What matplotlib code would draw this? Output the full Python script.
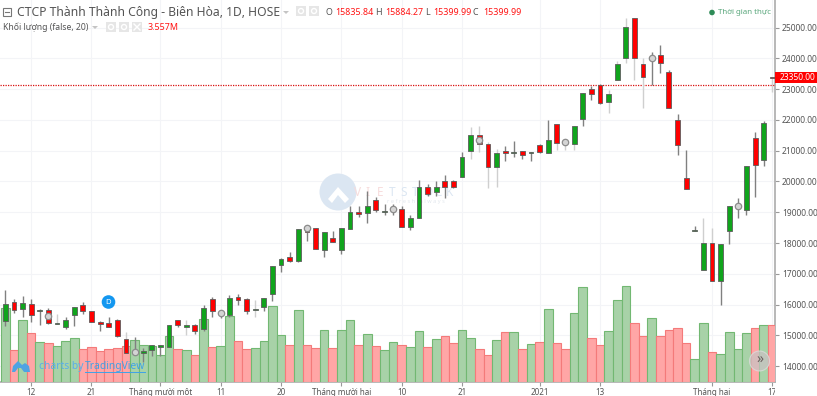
import matplotlib
matplotlib.use("Agg")
import matplotlib.pyplot as plt
from matplotlib.patches import Rectangle, Circle, Polygon

plt.rcParams['font.family'] = ['Noto Sans', 'DejaVu Sans']

opens = [15480,16080,15870,16020,15780,15830,15385,15290,15680,15980,
         15790,15440,15400,15490,14880,14440,14440,14540,14640,14640,
         15490,15290,15340,15200,16200,15710,15680,16250,16200,15820,
         15930,16340,17290,17540,17430,18560,18480,17780,18160,17780,
         18450,19000,18990,19400,19000,19090,19100,18530,18810,19810,
         19670,20000,20000,20140,21000,21500,21210,20480,21000,20940,
         21000,20940,21200,20940,21860,21270,21210,22040,22990,23140,
         22570,23290,24000,25300,23810,24000,24100,23570,22000,20100,
         18385,17140,17990,16780,18380,19190,19080,21400,20700,23380]
highs = [16480,16190,16280,16190,15850,15880,15700,15590,15940,16080,
         15800,15460,15600,15550,15120,14940,14590,14680,14680,15350,
         15510,15510,15360,15980,16240,15830,16320,16340,16210,16150,
         16210,17260,17500,17700,18450,18590,18500,18370,18390,18490,
         19210,19210,19690,19490,19260,19270,19210,18910,20050,19910,
         20000,20210,20050,20950,21780,21800,21290,21060,21150,21320,
         21000,20960,21210,22000,21870,21350,21810,22880,23110,23150,
         22970,23910,25300,25300,24000,24190,24430,23610,22190,21020,
         18560,18800,18480,17960,19210,19450,20510,21620,21970,23380]
lows = [15310,15740,15600,15450,15340,15380,15375,15210,15310,15710,
        15430,15160,15280,14960,14440,14370,14150,14320,14350,14640,
        15270,15000,15060,15150,15610,15560,15610,15990,15700,15610,
        15810,16120,17070,17370,17400,18070,17820,17560,18050,17650,
        18450,18860,18640,19020,18920,18920,18530,18430,18800,19540,
        19540,19460,19780,20140,20720,20970,19780,19830,20650,20780,
        20720,20650,20940,20940,21020,21020,21020,21800,22630,22510,
        22210,23290,23840,23280,22380,23130,23530,22380,20870,19750,
        18380,17140,16780,15990,17970,18830,18910,19510,20510,22920]
closes = [16020,15820,16040,15680,15840,15390,15400,15490,15930,15780,
          15440,15380,15290,14970,14440,14480,14490,14680,14680,15340,
          15340,15340,15150,15880,15780,15730,16210,16140,15780,15850,
          16210,17250,17490,17430,18450,18370,17820,18350,18050,18480,
          19000,18950,19210,19080,19050,19120,18530,18810,19810,19580,
          19810,19810,19810,20810,21500,21210,20480,20920,20940,20960,
          20850,20960,20950,21340,21240,21290,21800,22860,22850,22560,
          22850,23810,25010,24000,23380,24040,23850,22400,21200,19760,
          18395,17990,16780,17960,19210,19220,20500,20540,21900,23350]
volumes = [4.66,2.00,3.90,3.06,2.49,2.43,2.26,2.55,2.74,2.07,
           2.17,1.92,2.05,2.09,2.26,2.64,2.30,2.22,1.69,2.89,
           2.07,2.00,1.67,3.95,2.19,2.26,4.16,2.57,2.07,2.13,
           2.57,4.75,2.95,2.30,4.54,2.30,2.13,3.27,2.13,3.27,
           3.88,2.28,3.02,2.24,2.00,2.47,2.30,2.19,3.19,2.19,
           2.70,2.89,2.43,3.27,2.76,2.07,1.69,2.64,3.12,3.12,
           2.07,2.38,2.47,4.58,2.43,2.07,4.35,5.97,2.74,2.30,
           3.21,5.17,6.03,3.69,2.89,3.99,2.85,3.25,3.40,2.43,
           1.41,3.69,1.86,1.73,3.12,2.07,3.04,3.38,3.57,3.557]
volume_up = [1,0,1,0,1,0,1,1,1,0,
             0,0,0,0,0,1,1,1,1,1,
             0,1,0,1,0,1,1,0,0,1,
             1,1,1,0,1,0,0,1,0,1,
             1,0,1,0,1,1,0,1,1,0,
             1,0,0,1,1,0,0,1,0,1,
             0,1,0,1,0,0,1,1,0,0,
             1,1,1,0,0,1,0,0,0,0,
             1,1,0,1,1,1,1,0,1,0]
marker_index = [5,15,25,35,45,55,65,75,85]
marker_price = [15640,14450,15720,18490,19110,21350,21280,24020,19200]
light_wicks = [6,14,21,29,54,55,56,57,64,65,66,70,71,72,73,74,81,82,89]
price_ticks = [14000,15000,16000,17000,18000,19000,20000,21000,22000,23000,24000,25000]
x_ticks = [3,10,18,25,32,39,46,53,62,69,82,89]
x_labels = ['12','21','Tháng mười một','11','20','Tháng mười hai','10','21','2021','13','Tháng hai','17']
price_line = 23120
last_price = 23350

W, H = 817, 396
AX_R, AX_B = 775, 381.5
rect = [0, 1 - AX_B / H, AX_R / W, AX_B / H]
xlim = (-0.615, 89.31)
ylim = (13506, 25893)

fig = plt.figure(figsize=(W / 100, H / 100), dpi=100, facecolor='white')

ax = fig.add_axes(rect, zorder=1)
ax.set_xlim(xlim); ax.set_ylim(ylim)
ax.set_xticks(x_ticks)
ax.set_xticklabels(x_labels, fontsize=5.8, color='#555555')
for lab, t in zip(ax.get_xticklabels(), x_labels):
    lab.set_clip_on(True)
    lab.set_clip_box(matplotlib.transforms.Bbox([[0, 0], [AX_R, H]]))
    if t == '2021':
        lab.set_fontweight('bold')
ax.yaxis.tick_right()
ax.set_yticks(price_ticks)
ax.set_yticklabels([f'{p}.00' for p in price_ticks], fontsize=6.1, color='#555555')
ax.tick_params(axis='x', length=3, width=0.8, color='#999999', pad=2)
ax.tick_params(axis='y', length=3, width=0.8, color='#999999', pad=2)
ax.grid(True, color='#f3f4f7', lw=0.8)
ax.set_axisbelow(True)
for s in ('top', 'left'):
    ax.spines[s].set_visible(False)
for s in ('right', 'bottom'):
    ax.spines[s].set_color('#b2b2b2')
    ax.spines[s].set_linewidth(1.3)

def pixel_axes(z):
    a = fig.add_axes([0, 0, 1, 1], zorder=z)
    a.set_xlim(0, W); a.set_ylim(H, 0); a.axis('off'); a.patch.set_alpha(0)
    return a

wm = pixel_axes(1.5)
wm.add_patch(Circle((338, 192), 18.5, fc='#dbe6f2', ec='none'))
wm.add_patch(Polygon([(328, 199), (338, 187), (349, 199), (345, 203), (338, 195), (332, 203)], fc='white', ec='none'))
for k, ch in enumerate('VIETSTOCK'):
    wm.text(354 + k * 11.5, 192, ch, fontsize=8.5, va='center', fontweight='bold',
            family='Noto Sans', color='#f7dcdc' if k < 3 else '#dbe6f2')
wm.text(387, 201, 'r e f r e s h   a l w a y s', fontsize=4, color='#e3e8ee', va='center')

axv = fig.add_axes(rect, zorder=2)
axv.patch.set_alpha(0); axv.axis('off')
axv.set_xlim(xlim); axv.set_ylim(0, AX_B / 15.8)
xs = list(range(len(volumes)))
axv.bar(xs, volumes, width=1.0,
        color=['#a8d2a8' if u else '#ffa6a6' for u in volume_up],
        edgecolor=['#72b872' if u else '#f47a7a' for u in volume_up], linewidth=0.8)

axc = fig.add_axes(rect, zorder=3)
axc.patch.set_alpha(0); axc.axis('off')
axc.set_xlim(xlim); axc.set_ylim(ylim)
axc.axhline(price_line, color='#d81010', lw=0.9, ls=(0, (1, 1)))
axc.vlines(xs, lows, highs, lw=1.0, zorder=2,
           color=['#cfcfcf' if i in light_wicks else '#808080' for i in xs])
for i, (o, c) in enumerate(zip(opens, closes)):
    up = c >= o
    axc.bar(i, max(abs(c - o), 25), bottom=min(o, c), width=0.56,
            color='#10a41c' if up else '#ff0000', edgecolor='#5c5c5c', linewidth=0.6, zorder=3)
axc.plot(marker_index, marker_price, 'o', ms=4.6, mfc='#d4d4d4', mec='#8c8c8c', mew=0.9, ls='none', zorder=4)

top = pixel_axes(4)
GREY = '#555555'
RED = '#ff1414'
top.add_patch(Rectangle((3.5, 7.5), 8, 8, fc='none', ec='#777777', lw=0.8))
top.plot([5.5, 9.5], [11.5, 11.5], color='#777777', lw=0.8)
top.text(17, 12.3, 'CTCP Thành Thành Công - Biên Hòa, 1D, HOSE', fontsize=8.75, color=GREY, va='center')
top.add_patch(Polygon([(283, 11), (289, 11), (286, 14)], fc='#c4c4c4', ec='none'))
for x0 in (296, 309):
    top.add_patch(Rectangle((x0, 6), 10, 10, fc='#e6e6e6', ec='none'))
    top.add_patch(Circle((x0 + 5, 11), 2.5, fc='none', ec='white', lw=1))
top.text(326, 12.3, 'O', fontsize=6.4, color=GREY, va='center')
top.text(335, 12.3, '15835.84', fontsize=6.4, color=RED, va='center')
top.text(375, 12.3, 'H', fontsize=6.4, color=GREY, va='center')
top.text(385, 12.3, '15884.27', fontsize=6.4, color=RED, va='center')
top.text(425, 12.3, 'L', fontsize=6.4, color=GREY, va='center')
top.text(433, 12.3, '15399.99', fontsize=6.4, color=RED, va='center')
top.text(473, 12.3, 'C', fontsize=6.4, color=GREY, va='center')
top.text(483, 12.3, '15399.99', fontsize=6.4, color=RED, va='center')
top.add_patch(Circle((712, 12.5), 2.8, fc='#2e8b57', ec='none'))
top.text(718, 12.3, 'Thời gian thực', fontsize=5.7, color='#5aa77c', va='center')
top.text(3, 27, 'Khối lượng (false, 20)', fontsize=6.2, color=GREY, va='center')
top.add_patch(Polygon([(92, 26), (98, 26), (95, 29)], fc='#c4c4c4', ec='none'))
for x0 in (106, 119, 132):
    top.add_patch(Rectangle((x0, 22), 10, 10, fc='#e6e6e6', ec='none'))
    if x0 < 132:
        top.add_patch(Circle((x0 + 5, 27), 2.5, fc='none', ec='white', lw=1))
    else:
        top.plot([x0 + 2, x0 + 8], [24, 30], color='white', lw=1)
        top.plot([x0 + 2, x0 + 8], [30, 24], color='white', lw=1)
top.text(148, 27, '3.557M', fontsize=6.4, color=RED, va='center')
top.add_patch(Rectangle((775.5, 72), 41.5, 11, fc='#ff0000', ec='none'))
top.text(780, 77.8, f'{last_price}.00', fontsize=6.1, color='white', va='center')
top.add_patch(Circle((108.5, 302), 6.8, fc='#1397f0', ec='none'))
top.text(108.5, 302, 'D', fontsize=5.5, color='white', ha='center', va='center', fontweight='bold')
top.add_patch(Polygon([(12, 372), (13, 366), (18, 361), (22, 365), (25, 363), (29, 366), (30, 372), (24, 372), (21, 368), (18, 368), (15, 372)],
                      fc='#4fa3e3', ec='none'))
top.text(39, 366, 'charts by', fontsize=7.4, color='#58aeea', va='center')
top.text(85, 366, 'TradingView', fontsize=7.4, color='#3ea2e8', va='center')
top.plot([85, 145], [371.5, 371.5], color='#3ea2e8', lw=0.7)
top.add_patch(Circle((759.5, 361), 10, fc='#c9c3c3', ec='#dddddd', lw=0.8, alpha=0.75))
top.text(759.5, 360.5, '»', fontsize=10, color='#6b5f5f', ha='center', va='center')

fig.savefig('out.png', dpi=100, facecolor='white')
